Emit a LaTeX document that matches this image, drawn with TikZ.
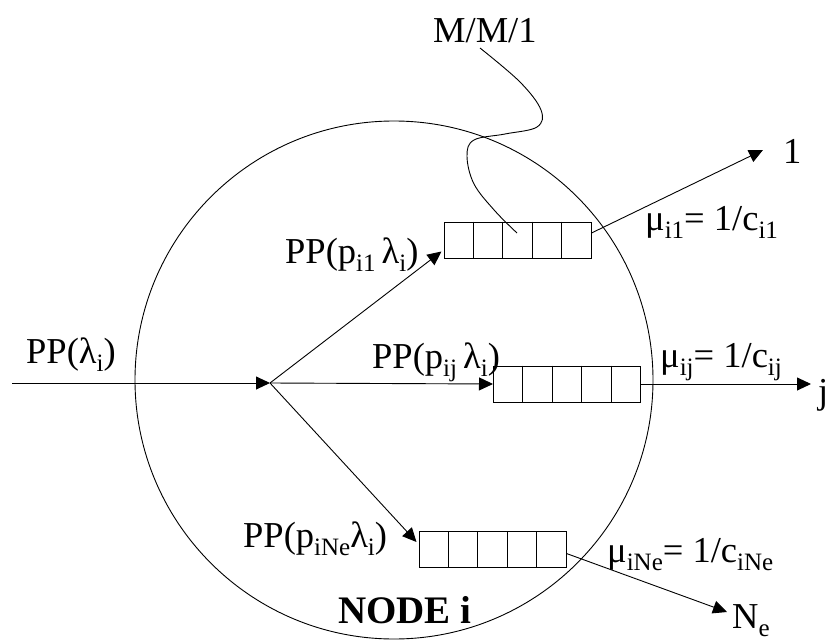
\documentclass[tikz,border=0pt]{standalone}
\usepackage{fontspec}
\setmainfont{Liberation Serif}
\usetikzlibrary{arrows.meta,calc}
\newcommand\sbs[1]{\raisebox{-8.5pt}{\fontsize{25}{25}\selectfont #1}}
\tikzset{
  lbl/.style={inner sep=0pt,anchor=base west,font=\fontsize{36.5}{40}\selectfont},
  queue/.style={draw,line width=1pt,minimum width=147pt,minimum height=36pt,inner sep=0pt},
  conn/.style={line width=0.9pt},
  arr/.style={conn,-{Triangle[length=14pt,width=13pt]}}
}
\begin{document}
\begin{tikzpicture}[x=1pt,y=-1pt]
\useasboundingbox (0,0) rectangle (831,642);
% node circle
\draw[line width=0.9pt] (394,380) circle[radius=259];
% queues
\node[queue] (q1) at (517.5,240) {};
\node[queue] (qj) at (567,384) {};
\node[queue] (qN) at (492.5,549.5) {};
\foreach \q in {q1,qj,qN}{
  \foreach \k in {1,2,3,4}{
    \draw[line width=1pt] ($(\q.north west)!\k/5!(\q.north east)$) -- ($(\q.south west)!\k/5!(\q.south east)$);
  }
}
% coordinates
\coordinate (in) at (12,383);
\coordinate (split) at (270,383);
\coordinate (t1) at ([xshift=-2pt,yshift=7pt]q1.south west);
\coordinate (tN) at ([xshift=-2pt,yshift=-11pt]qN.north west);
\coordinate (o1) at (763,150);
\coordinate (oj) at (811,384);
\coordinate (oN) at (727,612);
% connectors
\draw[arr] (in) -- (split);
\draw[arr] (split) -- (t1);
\draw[arr] (split) -- (qj.west);
\draw[arr] (split) -- (tN);
\draw[arr] ([yshift=7pt]q1.east) -- (o1);
\draw[arr] (qj.east) -- (oj);
\draw[arr] ([yshift=-4pt]qN.east) -- (oN);
% M/M/1 pointer
\draw[conn] plot[smooth,tension=0.6] coordinates {(480,48) (520,82) (541,110) (537,127) (505,134) (474,140) (467,156) (474,184) (495,211) (517,233)};
% labels
\node[lbl] (lin) at (26,363) {PP(λ\sbs{i})};
\node[lbl] (l1) at (285,263) {PP(p\sbs{i1}\,λ\sbs{i})};
\node[lbl] (lj) at (372,368) {PP(p\sbs{ij}\,λ\sbs{i})};
\node[lbl] (lN) at (243,547) {PP(p\sbs{iNe}λ\sbs{i})};
\node[lbl] (mm1) at (433,43) {M/M/1};
\node[lbl] (mu1) at (645,230) {μ\sbs{i1}= 1/c\sbs{i1}};
\node[lbl] (muj) at (660,367) {μ\sbs{ij}= 1/c\sbs{ij}};
\node[lbl] (muN) at (607,562) {μ\sbs{iNe}= 1/c\sbs{iNe}};
\node[lbl] (d1) at (783,163) {1};
\node[lbl] (dj) at (818,403) {j};
\node[lbl] (dN) at (732,628) {N\sbs{e}};
\node[lbl,font=\fontsize{39}{42}\selectfont\bfseries] (nodei) at (338,623) {NODE i};
\end{tikzpicture}
\end{document}
